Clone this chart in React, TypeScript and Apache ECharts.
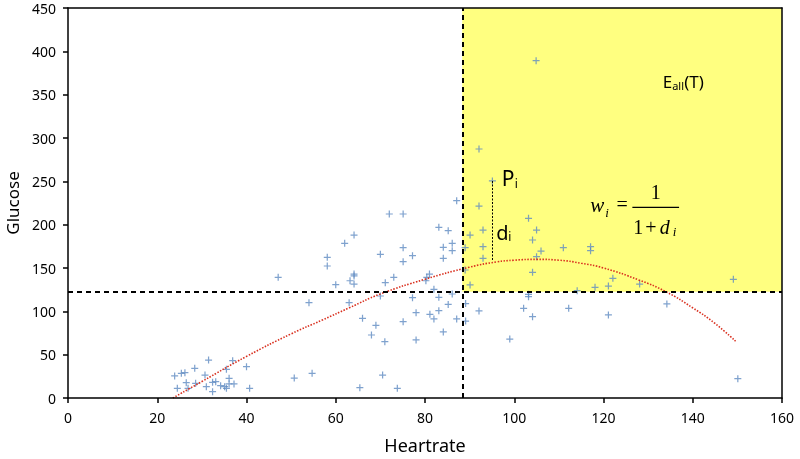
import React, { useEffect, useRef } from "react";
import * as echarts from "echarts";

// Scatter observations: heart rate (x) and glucose (y)
const heartrate = [
  31.5, 23.9, 25.4, 26.2, 28.4, 24.5, 26.5, 26.9, 28.6, 30.7, 31, 32.4, 32.4, 33.1, 34.2, 35.1, 35.5, 36.1, 36.1, 35.5,
  36.9, 37.2, 40, 40.7, 50.7, 54.7,
  87.1, 72, 75.1, 83.1, 85.2, 64.1, 62, 86.1, 84.1, 86.1, 75.1, 58.1, 70, 77.2, 84.1, 75.1, 58.1, 64.1, 64.1, 63.2,
  64.1, 60, 73, 71.1, 80.4, 81, 80.2, 82, 70, 77.2, 83.1, 86.1,
  54, 63, 85.2, 83.1, 78, 81.1, 82, 87.1, 66, 69, 75.1, 68, 71, 78, 84.1, 89.1, 89.1, 70.5, 65.4, 73.8,
  47.1,
  92.1, 95.1, 92.1, 103.2, 105, 93, 90.1, 104.1, 93, 89, 106, 111, 93, 105,
  89, 104.1, 90.1, 103.2, 103.2, 92.1, 102.1, 104.1, 112.2, 99,
  117.1, 117.1, 122.1, 118.1, 121.1, 128.1, 114.1, 121.1, 134.2,
  149.1, 150.1, 104.9,
];
const glucose = [
  43.8, 25.4, 28.5, 29.2, 34.2, 11.2, 17.7, 11.2, 17, 26.5, 13, 7.3, 18.1, 18.8, 14.2, 13, 11.2, 16.2, 22.7, 33.1,
  43, 16.2, 36.1, 11.2, 23, 28.5,
  227.7, 212.3, 212.3, 197, 193, 188, 178.5, 178.5, 173.9, 170, 173.4, 162.3, 165.8, 164.2, 161.2, 157.3, 152.3, 143, 140.8, 135.3,
  131.5, 130.7, 139.3, 133, 139.3, 143, 135.3, 125.4, 117.7, 115.7, 116.2, 120,
  110, 110, 108, 100.8, 98.5, 96.6, 91.2, 91.2, 92, 83.9, 88, 72.7, 65, 67, 76.2, 109, 88.8, 26.5, 11.9, 11.2,
  139.3,
  287.3, 250.4, 221.5, 207.3, 193.8, 193.8, 188, 182.3, 174.6, 173.4, 169.6, 173.4, 161.2, 163,
  147.7, 145, 130.4, 119.6, 116.9, 100.4, 103.5, 93.8, 103.5, 68,
  174.6, 170, 138.1, 127.7, 129.2, 131.5, 123.8, 95.8, 108.5,
  137, 22.3, 389.2,
];

// Trend curve
const trendHeartrate = [23.5, 30, 40, 50, 57, 63, 70, 80, 90, 96, 100, 105, 110, 115, 120, 128, 134, 140, 145, 149.7];
const trendGlucose = [0, 19, 48, 74, 90, 104, 120, 137, 151, 157, 159, 160, 159, 155.5, 150, 136, 122.6, 104, 86, 65];

// Thresholds and highlighted point P_i
const thresholdHeartrate = 88.35;
const thresholdGlucose = 122.65;
const pointP = [95.1, 250.4];
const pointPFootGlucose = 157.5;

// Axis ranges
const xMin = 0, xMax = 160, xStep = 20;
const yMin = 0, yMax = 450, yStep = 50;

const PLUS = "path://M3.3,0h1.4v3.3h3.3v1.4h-3.3v3.3h-1.4v-3.3h-3.3v-1.4h3.3z";
const SANS = "Noto Sans";
const SERIF = "Liberation Serif";

function txt(x: number, y: number, text: string, fontSize: number, opts: any = {}) {
  const align = opts.align || "left";
  return {
    type: "text",
    x,
    y,
    z: 20,
    silent: true,
    style: {
      text,
      fill: "#000",
      fontSize,
      fontFamily: opts.fontFamily || SANS,
      fontStyle: opts.italic ? "italic" : "normal",
      align,
      textAlign: align,
      verticalAlign: "middle",
      textVerticalAlign: "middle",
    },
  };
}

export default function App() {
  const ref = useRef<HTMLDivElement>(null);
  useEffect(() => {
    const chart = echarts.init(ref.current!, null, { renderer: "svg" });
    const points = heartrate.map((h, i) => [h, glucose[i]]);
    const trend = trendHeartrate.map((h, i) => [h, trendGlucose[i]]);
    const axisLine = { show: true, onZero: false, lineStyle: { color: "#000", width: 1.5 } };
    chart.setOption({
      animation: false,
      grid: { left: 68, right: 18, top: 8, bottom: 61, containLabel: false, outerBoundsMode: "none" },
      xAxis: [
        {
          type: "value", min: xMin, max: xMax, interval: xStep, position: "bottom",
          name: "Heartrate", nameLocation: "middle", nameGap: 38,
          nameTextStyle: { fontFamily: SANS, fontSize: 18, color: "#000" },
          axisLine, axisTick: { show: true, length: 5, lineStyle: { color: "#000", width: 1.5 } },
          axisLabel: { color: "#000", fontFamily: SANS, fontSize: 14, margin: 12 },
          splitLine: { show: false }, z: 10,
        },
        {
          type: "value", min: xMin, max: xMax, position: "top",
          axisLine, axisTick: { show: false }, axisLabel: { show: false }, splitLine: { show: false }, z: 10,
        },
      ],
      yAxis: [
        {
          type: "value", min: yMin, max: yMax, interval: yStep, position: "left",
          name: "Glucose", nameLocation: "middle", nameGap: 44,
          nameTextStyle: { fontFamily: SANS, fontSize: 17, color: "#000" },
          axisLine, axisTick: { show: true, length: 5, lineStyle: { color: "#000", width: 1.5 } },
          axisLabel: { color: "#000", fontFamily: SANS, fontSize: 14, margin: 12 },
          splitLine: { show: false }, z: 10,
        },
        {
          type: "value", min: yMin, max: yMax, position: "right",
          axisLine, axisTick: { show: false }, axisLabel: { show: false }, splitLine: { show: false }, z: 10,
        },
      ],
      series: [
        {
          type: "scatter",
          name: "Patients",
          data: points,
          symbol: PLUS,
          symbolSize: 7,
          itemStyle: { color: "#5f8bc2" },
          z: 3,
          markArea: {
            silent: true,
            itemStyle: { color: "#ffff80" },
            data: [[
              { xAxis: thresholdHeartrate, yAxis: thresholdGlucose },
              { xAxis: xMax, yAxis: yMax },
            ]],
          },
          markLine: {
            silent: true,
            symbol: ["none", "none"],
            label: { show: false },
            lineStyle: { color: "#000", width: 2, type: [5, 4] },
            data: [
              { xAxis: thresholdHeartrate },
              { yAxis: thresholdGlucose },
              [
                { coord: pointP, lineStyle: { color: "#000", width: 1, type: [2, 1.5] } },
                { coord: [pointP[0], pointPFootGlucose], lineStyle: { color: "#000", width: 1, type: [2, 1.5] } },
              ],
            ],
          },
        },
        {
          type: "line",
          name: "Trend",
          data: trend,
          smooth: true,
          showSymbol: false,
          symbol: "none",
          lineStyle: { color: "#d9301f", width: 1.6, type: [1.5, 1.5] },
          z: 4,
        },
      ],
    });

    const px = (x: number, y: number) => chart.convertToPixel({ gridIndex: 0 }, [x, y]) as number[];
    const [pX, pY] = px(97.4, 253.8);
    const [dX, dY] = px(95.94, 191.5);
    const [eX, eY] = px(133.26, 365.5);
    const [bx, by] = px(126.47, 220.0);
    const barW = 46.7;
    chart.setOption({
      graphic: [
        txt(pX - 1, pY, "P", 21),
        txt(pX + 12, pY + 5, "i", 12),
        txt(dX, dY, "d", 20),
        txt(dX + 12, dY + 4, "i", 12),
        txt(eX, eY, "E", 17),
        txt(eX + 9.5, eY + 4.5, "all", 11),
        txt(eX + 21.5, eY, "(T)", 17),
        txt(bx - 42, by - 2.7, "w", 21, { fontFamily: SERIF, italic: true }),
        txt(bx - 27, by + 5, "i", 13, { fontFamily: SERIF, italic: true }),
        txt(bx - 10.3, by - 3.3, "=", 20, { fontFamily: SERIF, align: "center" }),
        txt(bx + barW / 2, by - 15.8, "1", 20, { fontFamily: SERIF, align: "center" }),
        {
          type: "rect", z: 20, silent: true,
          shape: { x: bx, y: by - 0.7, width: barW, height: 1.4 },
          style: { fill: "#000" },
        },
        txt(bx + 1, by + 19.3, "1", 20, { fontFamily: SERIF }),
        txt(bx + 18.5, by + 19.3, "+", 20, { fontFamily: SERIF, align: "center" }),
        txt(bx + 27.5, by + 19.3, "d", 20, { fontFamily: SERIF, italic: true }),
        txt(bx + 40.5, by + 24, "i", 13, { fontFamily: SERIF, italic: true }),
      ],
    });

    return () => chart.dispose();
  }, []);
  return <div ref={ref} style={{ position: "fixed", left: 0, top: 0, width: 800, height: 459 }} />;
}
